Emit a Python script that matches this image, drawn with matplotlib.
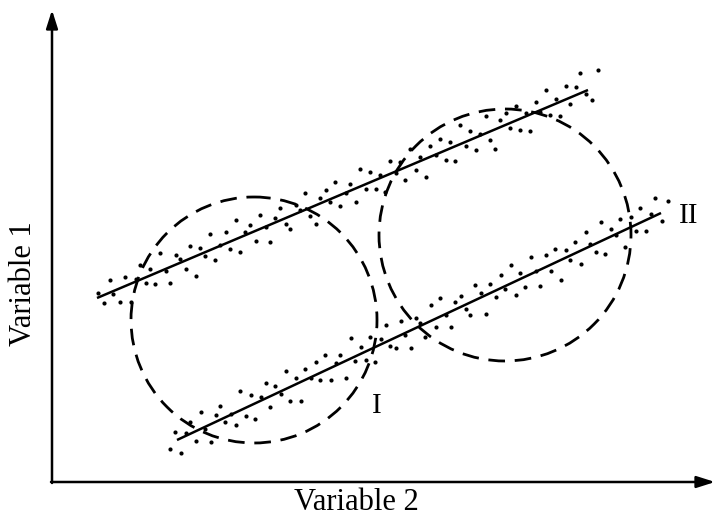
import numpy as np
import matplotlib.pyplot as plt
from matplotlib.patches import Circle

# Coordinates follow the picture: x to the right, y downward (pixel-like frame)
plt.rcParams['font.family'] = ['Liberation Serif', 'DejaVu Serif']

# Fitted lines for the two groups (endpoints)
line_u = ([97, 588], [298, 90])
line_l = ([177, 661], [440, 213])

# Circles drawn round each group (centre x, centre y, radius)
circle_I = (254, 320, 123)
circle_II = (505, 235, 126)

# Scatter of group around upper line: x position and offset from the line
xs_u = [98, 104, 110, 113, 120, 125, 131, 136, 140, 146,
        150, 155, 160, 166, 170, 176, 180, 186, 190, 196,
        200, 205, 210, 215, 220, 226, 230, 236, 240, 245,
        250, 256, 260, 266, 270, 275, 280, 286, 290, 296,
        300, 305, 310, 316, 320, 326, 330, 335, 340, 346,
        350, 356, 360, 366, 370, 376, 380, 385, 390, 396,
        400, 405, 410, 416, 420, 426, 430, 436, 440, 446,
        450, 455, 460, 466, 470, 476, 480, 486, 490, 495,
        500, 506, 510, 516, 520, 526, 530, 536, 540, 546,
        550, 556, 560, 566, 570, 576, 580, 586, 592, 598]
off_u = [5, -8, 12, -3, -14, 9, -18, 2, 15, -6,
         7, -11, 18, -2, -16, 10, 4, -9, 13, -20,
         6, -4, 16, -12, 1, 11, -7, 19, -15, 3,
         8, -10, 14, -1, -17, 5, 12, -6, -13, 9,
         2, 17, -8, -19, 6, 11, -3, 15, -11, 0,
         7, -14, 18, -5, 10, -9, 3, -16, 13, -2,
         8, -12, 16, -7, 4, -18, 11, -1, 14, -10,
         6, -15, 19, -4, 9, -13, 2, 17, -8, -20,
         7, 12, -5, 15, -11, 3, -16, 10, -2, 18,
         -9, 5, -14, 13, -6, 8, 20, -3, -12, 16]

# Scatter of group around lower line
xs_l = [170, 175, 181, 186, 190, 196, 201, 205, 211, 216,
        220, 225, 231, 236, 240, 246, 251, 255, 261, 266,
        270, 275, 281, 286, 290, 296, 301, 305, 311, 316,
        320, 325, 331, 336, 340, 346, 351, 355, 361, 366,
        370, 375, 381, 386, 390, 396, 401, 405, 411, 416,
        420, 425, 431, 436, 440, 446, 451, 455, 461, 466,
        470, 475, 481, 486, 490, 496, 501, 505, 511, 516,
        520, 525, 531, 536, 540, 546, 551, 555, 561, 566,
        570, 575, 581, 586, 590, 596, 601, 605, 611, 616,
        620, 625, 631, 636, 640, 646, 651, 655, 662, 668]
off_l = [-6, 9, -15, 3, 12, -10, 17, -2, -18, 7,
         14, -5, 1, -13, 19, -8, 10, -16, 4, 15,
         -11, 8, -3, 18, -14, 6, -19, 11, -1, 13,
         -7, 16, -12, 2, 9, -17, 20, -4, 7, -9,
         12, -15, 5, 17, -6, -11, 14, -2, -18, 10,
         3, -13, 16, -8, 19, -1, -16, 8, 11, -5,
         -12, 15, 4, -19, 9, -7, 13, -3, 18, -14,
         6, -10, 17, 1, -16, 12, -6, 14, -20, 8,
         -4, 11, -13, 16, 2, -9, 19, -15, 7, -1,
         13, -17, 10, -6, 15, -11, 4, 18, -8, 9]


def band_points(line, xs, offs):
    (x0, x1), (y0, y1) = line
    slope = (y1 - y0) / (x1 - x0)
    xs = np.array(xs, dtype=float)
    ys = y0 + slope * (xs - x0) - np.array(offs, dtype=float)
    return xs, ys


fig = plt.figure(figsize=(7.15, 5.15), dpi=100)
ax = fig.add_axes([0, 0, 1, 1])
ax.set_xlim(0, 715)
ax.set_ylim(515, 0)
ax.axis('off')

# axes with arrows
ax.annotate('', xy=(52, 10), xytext=(52, 483),
            arrowprops=dict(arrowstyle='-|>,head_length=1.1,head_width=0.35',
                            color='black', lw=1.8, shrinkA=0, shrinkB=0))
ax.annotate('', xy=(715, 482), xytext=(51, 482),
            arrowprops=dict(arrowstyle='-|>,head_length=1.1,head_width=0.35',
                            color='black', lw=1.8, shrinkA=0, shrinkB=0))

for line, xs, offs in [(line_u, xs_u, off_u), (line_l, xs_l, off_l)]:
    px, py = band_points(line, xs, offs)
    ax.scatter(px, py, s=9, color='black', linewidths=0)
    ax.plot(line[0], line[1], color='black', lw=1.8, solid_capstyle='butt')

for cx, cy, r in [circle_I, circle_II]:
    ax.add_patch(Circle((cx, cy), r, fill=False, edgecolor='black', lw=2.0,
                        linestyle=(0, (6, 3.5))))

ax.text(377, 406, 'I', fontsize=21, ha='center', va='center')
ax.text(689, 216, 'II', fontsize=21, ha='center', va='center')
ax.text(356, 502, 'Variable 2', fontsize=22, ha='center', va='center')
ax.text(24, 284, 'Variable 1', fontsize=22, ha='center', va='center', rotation=90)

fig.savefig('out.png', dpi=100)
